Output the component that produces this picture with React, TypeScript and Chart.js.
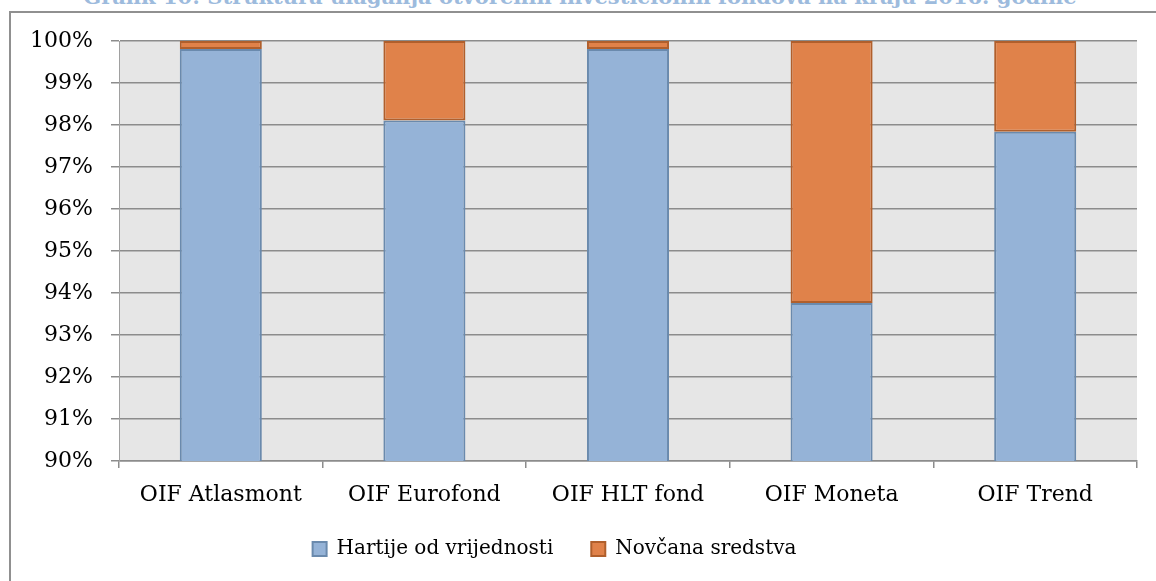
import React, { useEffect, useRef } from "react";
import { Chart, registerables } from "chart.js";

Chart.register(...registerables);

const titleText = "Grafik 10: Struktura ulaganja otvorenih investicionih fondova na kraju 2016. godine";
const categories = ["OIF Atlasmont", "OIF Eurofond", "OIF HLT fond", "OIF Moneta", "OIF Trend"];
const seriesNames = ["Hartije od vrijednosti", "Novčana sredstva"];
const securities = [99.81, 98.11, 99.81, 93.76, 97.84];
const cash = [0.19, 1.89, 0.19, 6.24, 2.16];
const yMin = 90;
const yMax = 100;
const yStep = 1;

const FONT = "'DejaVu Serif', serif";

const bgPlugin = {
  id: "plotBg",
  beforeDraw(chart: any) {
    const { ctx, chartArea } = chart;
    ctx.save();
    ctx.fillStyle = "#e6e6e6";
    ctx.fillRect(chartArea.left, chartArea.top, chartArea.right - chartArea.left, chartArea.bottom - chartArea.top);
    ctx.restore();
  },
};

const legendShift = {
  id: "legendShift",
  afterLayout(chart: any) {
    const lg = chart.legend;
    if (!lg) return;
    lg.left -= 14;
    lg.right -= 14;
    lg.top -= 12;
    lg.bottom -= 12;
  },
};

export default function App() {
  const ref = useRef<HTMLCanvasElement | null>(null);

  useEffect(() => {
    if (!ref.current) return;
    const chart = new Chart(ref.current, {
      type: "bar",
      data: {
        labels: categories,
        datasets: [
          {
            label: seriesNames[0],
            data: securities,
            backgroundColor: "#95b3d7",
            borderColor: "#6a8aad",
            borderWidth: 2,
            borderSkipped: false,
            barPercentage: 1,
            categoryPercentage: 0.403,
            clip: { left: 5, right: 5, top: 5, bottom: 0 } as any,
          },
          {
            label: seriesNames[1],
            data: cash,
            backgroundColor: "#e0824a",
            borderColor: "#b05f2c",
            borderWidth: 2,
            borderSkipped: false,
            barPercentage: 1,
            categoryPercentage: 0.403,
            clip: { left: 5, right: 5, top: 5, bottom: 0 } as any,
          },
        ],
      },
      options: {
        responsive: false,
        animation: false,
        devicePixelRatio: 1,
        layout: { padding: { left: 0, right: 19, top: 41, bottom: 0 } },
        plugins: {
          title: { display: false },
          tooltip: { enabled: false },
          legend: {
            position: "bottom",
            labels: {
              boxWidth: 14,
              boxHeight: 14,
              padding: 38,
              color: "#000",
              font: { family: FONT, size: 20 },
            },
          },
        },
        scales: {
          x: {
            stacked: true,
            afterFit(scale: any) {
              scale.height = 52;
            },
            grid: {
              offset: true,
              drawOnChartArea: false,
              drawTicks: true,
              tickLength: 7,
              color: "#8c8c8c",
              lineWidth: 1.5,
            },
            border: { display: true, color: "#8c8c8c", width: 1.5 },
            ticks: {
              color: "#000",
              padding: 14,
              font: { family: FONT, size: 22 },
              maxRotation: 0,
            },
          },
          y: {
            stacked: true,
            min: yMin,
            max: yMax,
            afterFit(scale: any) {
              scale.width = 119;
            },
            grid: {
              color: "#8c8c8c",
              lineWidth: 1.5,
              tickLength: 8,
              drawTicks: true,
            },
            border: { display: true, color: "#a0a0a0", width: 1 },
            ticks: {
              stepSize: yStep,
              color: "#000",
              padding: 18,
              font: { family: FONT, size: 22 },
              callback: (v: any) => `${v}%`,
            },
          },
        },
      },
      plugins: [bgPlugin, legendShift],
    });
    return () => chart.destroy();
  }, []);

  return (
    <div style={{ position: "absolute", left: 0, top: 0, width: 1156, height: 581, overflow: "hidden", background: "#fff" }}>
      <div
        style={{
          position: "absolute",
          left: 0,
          top: -14,
          width: 1160,
          textAlign: "center",
          fontFamily: FONT,
          fontWeight: "bold",
          fontSize: 21,
          lineHeight: "21px",
          color: "#9dbbdd",
          whiteSpace: "nowrap",
        }}
      >
        {titleText}
      </div>
      <div
        style={{
          position: "absolute",
          left: 9,
          top: 11,
          width: 1400,
          height: 900,
          border: "2px solid #909090",
          boxSizing: "border-box",
        }}
      />
      <canvas ref={ref} width={1156} height={581} style={{ position: "absolute", left: 0, top: 0, display: "block" }} />
    </div>
  );
}
